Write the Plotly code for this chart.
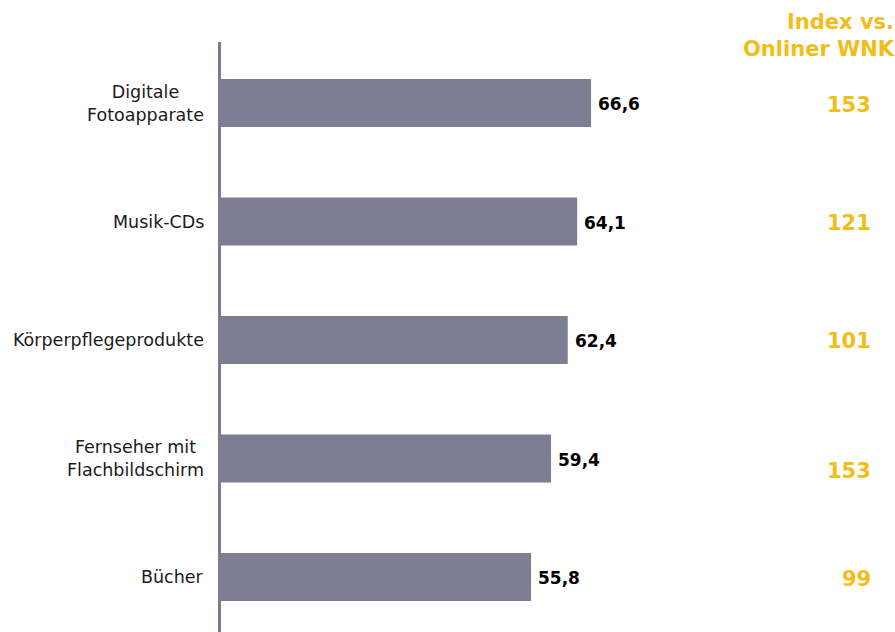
import plotly.graph_objects as go

# Data
categories = ["Digitale<br>Fotoapparate", "Musik-CDs", "Körperpflegeprodukte",
              "Fernseher mit<br>Flachbildschirm", "Bücher"]
values = [66.6, 64.1, 62.4, 59.4, 55.8]
index_values = [153, 121, 101, 153, 99]
index_header = "Index vs.<br>Onliner WNK"

BAR = "#7d7d93"
GOLD = "#f2bd18"
FONT = "DejaVu Sans"

labels = [f"{v:.1f}".replace(".", ",") for v in values]
ypos = list(range(len(categories)))

fig = go.Figure(go.Bar(
    x=values, y=ypos, orientation="h",
    width=0.405,
    marker=dict(color=BAR, line=dict(width=0)),
    cliponaxis=False, hoverinfo="skip",
))

annotations = []
# value labels at the bar ends
for y, v, t in zip(ypos, values, labels):
    annotations.append(dict(
        x=v, xref="x", y=y, yref="y", text=t, showarrow=False,
        xanchor="left", yanchor="middle", xshift=5, yshift=-1,
        font=dict(family=FONT, size=17, color="#000000", weight="bold"),
    ))
# category labels left of the axis
for y, c in zip(ypos, categories):
    annotations.append(dict(
        x=0, xref="paper", y=y, yref="y", text=c, showarrow=False,
        xanchor="right", yanchor="middle", align="center", xshift=-15,
        font=dict(family=FONT, size=17.5, color="#1a1a1a"),
    ))
# index column on the right
idx_shift = [2, 1, 1, 12, 2]
for y, v, s in zip(ypos, index_values, idx_shift):
    annotations.append(dict(
        x=1, xref="paper", y=y, yref="y", text=str(v), showarrow=False,
        xanchor="right", yanchor="middle", xshift=-22, yshift=-s,
        font=dict(family=FONT, size=21, color=GOLD, weight="bold"),
    ))
annotations.append(dict(
    x=1, xref="paper", y=1, yref="paper", text=index_header, showarrow=False,
    xanchor="right", yanchor="bottom", align="right", xshift=2, yshift=-21,
    font=dict(family=FONT, size=21, color=GOLD, weight="bold"),
))

fig.update_layout(
    width=895, height=632,
    margin=dict(l=221, r=0, t=42, b=0),
    paper_bgcolor="white", plot_bgcolor="white",
    showlegend=False,
    xaxis=dict(range=[0, 121.3], visible=False, fixedrange=True),
    yaxis=dict(range=[4.464, -0.515], showticklabels=False, showgrid=False,
               zeroline=False, showline=True, linecolor="#7d7a93", linewidth=3,
               ticks="", fixedrange=True),
    annotations=annotations,
)

fig.write_html("out.html", config={"displayModeBar": False})
